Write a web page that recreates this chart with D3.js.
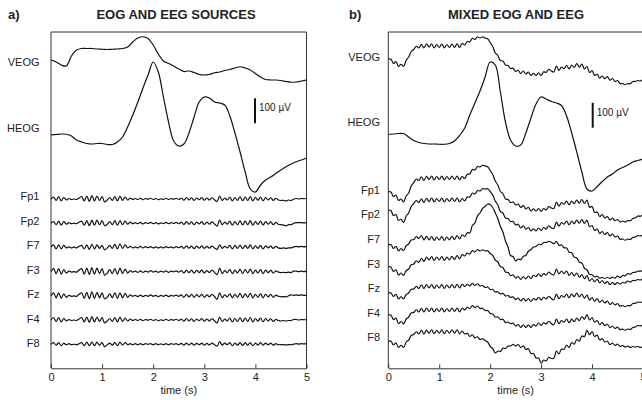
<!DOCTYPE html>
<html>
<head>
<meta charset="utf-8">
<script src="https://cdn.jsdelivr.net/npm/d3@7"></script>
<style>
body { margin: 0; background: #fff; }
svg { display: block; }
text { font-family: Arial, "Liberation Sans", sans-serif; fill: #222; }
</style>
</head>
<body>
<svg id="chart" width="642" height="400"></svg>
<script>
// channel names, top to bottom
const channels = ["VEOG", "HEOG", "Fp1", "Fp2", "F7", "F3", "Fz", "F4", "F8"];
const timeTicks = [0, 1, 2, 3, 4, 5];
const timeSpan = [0, 5];

// a) sources, in µV. EOG sampled every 0.1 s, EEG every 0.05 s
const srcVEOG = [0,-8,-20,-24,16,40,46,46,46,44, 43,42,43,44,46,52,72,88,93,86, 60,24,-4,-14,-24,-36,-46,-44,-50,-58,
  -60,-58,-51,-48,-42,-38,-32,-27,-32,-40, -54,-68,-78,-80,-80,-82,-86,-89,-88,-84, -80];
const srcHEOG = [0,2,4,3,-4,-20,-28,-34,-36,-34, -34,-38,-38,-28,-8,32,80,132,188,240, 292,252,152,52,-24,-44,-36,8,72,132,
  152,148,132,128,120,76,8,-68,-148,-216, -228,-200,-180,-168,-154,-140,-127,-116,-107,-100, -92];
const srcFp1 = [0,8,-6,10,-8,6,-4, 2,-2,0,-2, 4,10,-8,12,-10,14,-8,12,-6,10,-12,-4, 6,-6,10,-8,12,-6,8,-4,4,-2,
  2,-2,3,-3,2,-1,3,-2,2,-3,1,-2,3,-2,2,-1,3,-2, 4,-5,6,-4,5,-6,4,-3,6,-5,4,-4,5,-3, -10,12,-6,4,
  -4,8,-8,6,-6,9,-7,8,-6,10,-8,6,-5,8,-7,6,-4,5,-6,3, -4,-6,-5,-8,-4,-6,0, 2,0,2,1,2];
const srcFp2 = [0,6,-6,8,-8,6,-4, 2,-2,0,-2, 4,8,-8,10,-10,12,-8,12,-6,10,-10,-4, 6,-6,10,-8,10,-6,8,-4,4,-2,
  2,-2,3,-3,2,-1,3,-2,2,-3,1,-2,3,-2,2,-1,3,-2, 4,-5,6,-4,5,-6,4,-3,6,-5,4,-4,5,-3, -12,12,-6,4,
  -4,8,-8,6,-6,9,-7,8,-6,10,-8,6,-5,8,-7,6,-4,5,-6,3, -4,-6,-8,-10,-6,-6,0, 2,2,2,1,2];
const srcF7 = [2,10,-6,10,-6,8,-2, 2,-2,2,-2, 4,8,-6,10,-8,12,-6,10,-4,8,-10,-2, 8,-4,12,-6,14,-4,10,-2,4,-2,
  2,-2,4,-2,3,-1,3,-2,2,-2,2,-2,3,-1,2,-2,3,-1, 4,-4,6,-3,5,-5,5,-3,6,-4,4,-3,5,-2, -8,10,-4,4,
  -2,8,-6,8,-4,9,-5,8,-4,10,-6,6,-4,8,-6,6,-2,5,-4,4, -2,-4,-2,-4,-2,-2,2, 4,2,4,2,4];
const srcF3 = [0,12,-8,12,-10,8,-6, 2,-2,0,-2, 6,12,-10,14,-12,16,-10,14,-8,12,-14,-6, 8,-8,12,-10,14,-8,10,-6,4,-2,
  2,-3,3,-3,2,-2,4,-2,2,-3,2,-2,3,-3,2,-1,3,-2, 4,-6,6,-4,6,-6,5,-4,6,-6,4,-4,6,-3, -12,14,-8,4,
  -4,8,-8,6,-6,10,-8,8,-6,10,-8,6,-6,8,-8,6,-4,6,-6,3, -2,-4,-3,-4,-2,-4,2, 2,0,2,0,2];
const srcFz = [0,12,-8,12,-10,8,-6, 2,-2,0,-2, 6,12,-10,14,-12,16,-10,14,-8,12,-12,-6, 8,-8,12,-10,12,-8,10,-6,4,-2,
  2,-3,3,-3,2,-2,4,-2,2,-3,2,-2,3,-3,2,-1,3,-2, 4,-6,6,-4,6,-6,5,-4,6,-6,4,-4,6,-3, -14,12,-8,4,
  -4,8,-8,6,-6,10,-8,8,-6,10,-8,6,-6,8,-8,6,-4,6,-6,3, -2,-4,-3,-4,0,4,2, 4,2,4,2,2];
const srcF4 = [0,10,-6,10,-8,6,-4, 2,-2,0,-2, 4,10,-8,12,-10,14,-8,12,-6,10,-12,-4, 6,-6,10,-8,12,-6,8,-4,4,-2,
  2,-2,3,-3,2,-1,3,-2,2,-3,1,-2,3,-2,2,-1,3,-2, 4,-5,6,-4,5,-6,4,-3,6,-5,4,-4,5,-3, -12,12,-6,4,
  -4,8,-8,6,-6,9,-7,8,-6,10,-8,6,-5,8,-7,6,-4,5,-6,3, -2,-4,-2,-4,-2,-2,2, 2,0,2,1,2];
const srcF8 = [0,6,-4,6,-6,4,-2, 2,-2,0,-2, 2,6,-6,8,-6,8,-6,8,-4,6,-10,-2, 4,-4,6,-6,8,-4,6,-2,2,-2,
  2,-2,2,-2,2,-1,2,-2,2,-2,1,-2,2,-2,2,-1,2,-2, 3,-4,4,-3,4,-4,3,-2,4,-4,3,-3,4,-2, -8,10,-4,4,
  -2,6,-6,4,-4,6,-5,6,-4,6,-6,4,-4,6,-4,4,-2,4,-4,2, -2,-2,-2,-3,-2,-2,0, 2,0,2,1,2];

// b) mixed recordings, in µV
const mixVEOG = [-1,0,-18,-10,-30,-21,-30,-5,8,30, 38,51,44,59,44,61,48,61,44,58, 46,60,44,58,46,60,46,61,46,63,
  56,70,68,83,78,89,84,89,84,81, 66,50,24,14,-6,-8,-24,-26,-38,-37, -50,-45,-58,-48,-60,-52,-66,-57,-66,-55,
  -66,-51,-54,-41,-48,-52,-28,-46,-32,-39, -26,-40,-24,-34,-18,-33,-20,-40,-30,-54, -46,-66,-60,-77,-68,-79,-70,-85,-78,-90,
  -86,-99,-98,-103,-98,-99,-90,-90,-86,-88, -82];
const mixHEOG = [-1,0,2,2,-12,-26,-34,-38,-40,-40, -41,-41,-38,-28,-6,24,76,124,172,228, 288,276,168,48,-24,-48,-44,4,64,120,
  148,140,130,124,114,72,4,-72,-152,-220, -228,-210,-190,-172,-160,-144,-134,-124,-112,-106, -100];
const mixFp1 = [-11,-12,-30,-24,-46,-40,-52,-28,-16,12, 26,40,34,49,34,51,38,52,36,50, 38,52,36,50,38,52,38,52,36,50,
  42,59,60,78,76,90,88,95,92,89, 74,58,32,16,-10,-18,-40,-42,-54,-52, -64,-60,-74,-66,-80,-73,-88,-79,-88,-78,
  -90,-78,-84,-70,-76,-78,-52,-69,-54,-61, -48,-63,-48,-59,-44,-57,-42,-58,-44,-73, -70,-94,-92,-110,-102,-116,-110,-124,-116,-127,
  -122,-132,-128,-132,-126,-127,-118,-115,-108,-109, -102];
const mixFp2 = [16,14,-6,-2,-26,-21,-34,-9,4,30, 42,54,46,61,46,63,50,64,48,62, 50,64,48,62,50,64,50,64,48,62,
  52,68,68,84,80,94,92,101,100,101, 90,76,52,36,10,4,-16,-18,-30,-30, -44,-41,-56,-47,-61,-54,-68,-59,-68,-56,
  -66,-54,-60,-47,-55,-58,-32,-49,-34,-41, -28,-43,-28,-39,-24,-37,-22,-38,-24,-51, -46,-66,-60,-78,-70,-82,-74,-88,-80,-92,
  -88,-101,-100,-105,-100,-102,-94,-92,-86,-88, -82];
const mixF7 = [-24,-22,-38,-29,-48,-38,-46,-27,-20,-4, -2,10,2,14,-4,11,-4,10,-6,8, -4,10,-6,8,-4,11,-2,14,0,17,
  10,25,24,54,64,92,104,122,130,140, 138,126,104,82,50,28,-8,-32,-66,-70, -88,-80,-83,-69,-66,-49,-43,-32,-30,-21,
  -23,-14,-14,-9,-13,-19,-10,-25,-24,-35, -36,-53,-55,-72,-76,-93,-96,-117,-123,-141, -143,-152,-148,-157,-153,-158,-153,-158,-152,-157,
  -148,-154,-146,-147,-138,-141,-134,-133,-128,-129, -122];
const mixF3 = [-13,-14,-32,-25,-46,-38,-48,-29,-22,-5, -2,11,4,21,8,26,14,28,12,26, 14,28,12,26,14,29,16,32,18,36,
  30,42,38,52,46,56,50,55,50,51, 40,32,14,6,-12,-16,-34,-36,-48,-46, -58,-52,-64,-52,-62,-50,-60,-47,-52,-41,
  -52,-40,-46,-34,-42,-46,-22,-42,-30,-40, -30,-48,-36,-50,-38,-55,-44,-61,-48,-70, -60,-74,-62,-78,-68,-80,-72,-85,-76,-84,
  -76,-83,-76,-78,-70,-74,-68,-68,-64,-66, -60];
const mixFz = [-21,-19,-34,-25,-44,-35,-44,-26,-20,-5, -4,7,-2,13,-2,14,0,14,-2,12, 0,14,-2,12,0,14,0,15,0,15,
  6,15,8,19,10,17,8,10,2,4, -6,-6,-16,-15,-24,-21,-32,-30,-38,-35, -46,-40,-52,-41,-52,-42,-54,-42,-48,-37,
  -48,-37,-44,-33,-42,-47,-24,-43,-30,-37, -24,-39,-24,-35,-20,-36,-24,-41,-28,-49, -38,-53,-42,-58,-48,-60,-52,-66,-58,-68,
  -62,-73,-70,-75,-70,-71,-62,-61,-56,-58, -53];
const mixF4 = [-10,-10,-28,-22,-44,-36,-46,-26,-18,-2, 0,11,2,17,2,18,4,18,2,16, 4,18,2,16,4,18,4,18,2,18,
  10,21,16,28,19,26,16,17,8,8, -4,-6,-18,-18,-28,-27,-40,-38,-45,-42, -54,-48,-60,-49,-60,-49,-60,-48,-54,-42,
  -52,-40,-46,-35,-44,-49,-26,-45,-32,-39, -26,-41,-26,-37,-22,-33,-16,-27,-8,-30, -20,-39,-32,-49,-40,-53,-46,-61,-54,-64,
  -58,-69,-66,-71,-66,-68,-60,-58,-52,-54, -48];
const mixF8 = [-19,-16,-32,-23,-42,-33,-42,-21,-12,6, 10,21,12,27,12,28,15,29,13,27, 15,29,13,27,15,29,15,29,12,24,
  12,15,2,9,-4,1,-10,-7,-14,-20, -38,-46,-64,-56,-58,-45,-46,-36,-36,-29, -36,-30,-42,-35,-50,-47,-66,-66,-84,-84,
  -105,-92,-96,-81,-86,-85,-56,-68,-48,-50, -32,-42,-22,-29,-10,-17,4,1,28,9, 22,2,8,-12,-6,-21,-16,-31,-24,-34,
  -28,-38,-34,-40,-36,-42,-38,-40,-38,-42, -38];

const barValue = 100; // µV

// layout of the two panels
const plotTop = 32, plotBottom = 368.3;
const panels = [
  { tag: "a)", tagX: 8, title: "EOG AND EEG SOURCES", titleX: 176, x0: 51, x1: 306.5,
    series: [srcVEOG, srcHEOG, srcFp1, srcFp2, srcF7, srcF3, srcFz, srcF4, srcF8],
    base: [60, 135, 199, 223.2, 247.4, 271.6, 295.8, 320, 344.2],
    labelY: [62.5, 128.3, 196.5, 221, 245.5, 270, 294.5, 319, 343.5], labelX: 39.5,
    barX: 255, barY: 98.3 },
  { tag: "b)", tagX: 349, title: "MIXED EOG AND EEG", titleX: 516, x0: 388.3, x1: 643,
    series: [mixVEOG, mixHEOG, mixFp1, mixFp2, mixF7, mixF3, mixFz, mixF4, mixF8],
    base: [59, 134, 189, 214, 239, 263.5, 288, 312.5, 337],
    labelY: [56.7, 122.5, 190, 214.5, 239.5, 264, 288.5, 313, 337], labelX: 380,
    barX: 592.7, barY: 102.7 }
];

const svg = d3.select("#chart");
const uv = d3.scaleLinear().domain([0, 100]).range([0, -25]);

panels.forEach(p => {
  const g = svg.append("g");
  const x = d3.scaleLinear().domain(timeSpan).range([p.x0, p.x1]);

  g.append("text").attr("x", p.tagX).attr("y", 19)
    .style("font-size", "13px").style("font-weight", "bold").text(p.tag);
  g.append("text").attr("x", p.titleX).attr("y", 19).attr("text-anchor", "middle")
    .style("font-size", "13px").style("font-weight", "bold").text(p.title);

  // frame: left, top, right
  g.append("path")
    .attr("d", `M${p.x0},${plotBottom}V${plotTop}H${p.x1}V${plotBottom}`)
    .attr("fill", "none").attr("stroke", "#333").attr("stroke-width", 1);

  const axis = d3.axisBottom(x).tickValues(timeTicks).tickFormat(d3.format("d"))
    .tickSize(-4).tickSizeOuter(0).tickPadding(5);
  const ax = g.append("g").attr("transform", `translate(0,${plotBottom})`).call(axis);
  ax.select(".domain").attr("stroke", "#333");
  ax.selectAll(".tick line").attr("stroke", "#333");
  ax.selectAll(".tick text").style("font-size", "11px").attr("fill", "#222")
    .style("font-family", "Arial, 'Liberation Sans', sans-serif");

  g.append("text").attr("x", (p.x0 + p.x1) / 2).attr("y", 394).attr("text-anchor", "middle")
    .style("font-size", "11px").text("time (s)");

  channels.forEach((ch, i) => {
    const vals = p.series[i];
    const step = (timeSpan[1] - timeSpan[0]) / (vals.length - 1);
    const line = d3.line()
      .x((d, k) => x(k * step))
      .y(d => p.base[i] + uv(d))
      .curve(d3.curveCatmullRom.alpha(0.5));
    g.append("path").datum(vals)
      .attr("d", line)
      .attr("fill", "none").attr("stroke", "#111").attr("stroke-width", 1.2)
      .attr("stroke-linejoin", "round");
    g.append("text").attr("x", p.labelX).attr("y", p.labelY[i]).attr("dy", "0.36em")
      .attr("text-anchor", "end").style("font-size", "11px").text(ch);
  });

  // 100 µV scale bar
  g.append("line").attr("x1", p.barX).attr("x2", p.barX)
    .attr("y1", p.barY).attr("y2", p.barY - uv(barValue))
    .attr("stroke", "#111").attr("stroke-width", 2);
  g.append("text").attr("x", p.barX + 4).attr("y", p.barY + 13)
    .style("font-size", "10px").text(barValue + " µV");
});
</script>
</body>
</html>
